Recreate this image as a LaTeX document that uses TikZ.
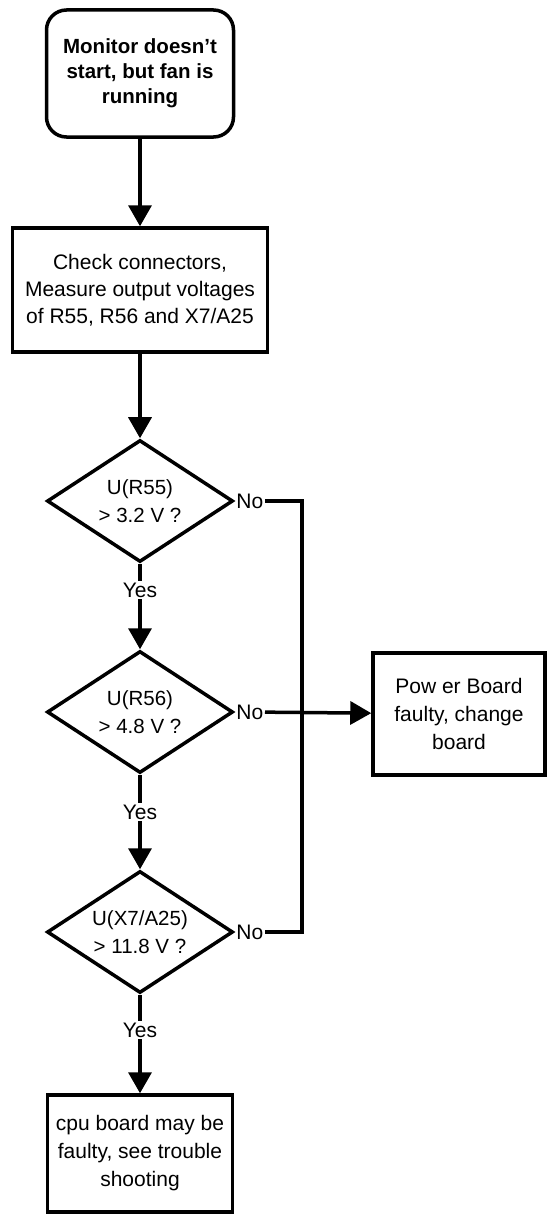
\documentclass[tikz,border=0pt]{standalone}
\usepackage{fontspec}
\setmainfont{Liberation Sans}
\usetikzlibrary{shapes.geometric}
\usetikzlibrary{arrows.meta}

\begin{document}
\begin{tikzpicture}[x=1pt, y=-1pt, >={Triangle[length=21pt, width=23pt]}]

  % ---------- Styling ----------
  \tikzset{
    startbox/.style={draw, line width=3.5pt, rounded corners=20pt, align=center, inner sep=0pt,
      font=\fontsize{20.5}{25}\selectfont\bfseries},
    taskbox/.style={draw, line width=3.5pt, align=center, inner sep=0pt,
      font=\fontsize{21}{27}\selectfont},
    query/.style={diamond, draw, line width=3.5pt, align=center, inner sep=0pt, aspect=1.5,
      minimum width=186pt, minimum height=122pt, font=\fontsize{20.5}{28}\selectfont},
    answer/.style={inner sep=1.5pt, font=\fontsize{21}{24}\selectfont},
    flow/.style={draw, line width=3.5pt, ->},
    wire/.style={draw, line width=3.5pt}
  }

  \useasboundingbox (0,0) rectangle (548,1215);

  % ---------- Boxes ----------
  \node[startbox, minimum width=187pt, minimum height=127pt] (start) at (140,73.5)
    {Monitor doesn't\\start, but fan is\\running};
  \node[taskbox, minimum width=255pt, minimum height=124pt] (check) at (140,290)
    {Check connectors,\\Measure output voltages\\of R55, R56 and X7/A25};
  \node[taskbox, minimum width=172pt, minimum height=122pt, font=\fontsize{21}{28}\selectfont]
    (power) at (459,714) {Pow er Board\\faulty, change\\board};
  \node[taskbox, minimum width=185pt, minimum height=117pt, font=\fontsize{21}{28}\selectfont]
    (cpu) at (140,1153.5) {cpu board may be\\faulty, see trouble\\shooting};

  % ---------- Decisions ----------
  \node[query] (q1) at (140,501) {U(R55)\\> 3.2 V ?};
  \node[query] (q2) at (140,712) {U(R56)\\> 4.8 V ?};
  \node[query] (q3) at (140,932) {U(X7/A25)\\> 11.8 V ?};

  \node[answer] (yes1) at (140,590) {Yes};
  \node[answer] (yes2) at (140,812) {Yes};
  \node[answer] (yes3) at (140,1030) {Yes};
  \node[answer, anchor=west] (no1) at (q1.east) {No};
  \node[answer, anchor=west] (no2) at (q2.east) {No};
  \node[answer, anchor=west] (no3) at (q3.east) {No};

  \coordinate (bus1) at (302,501);
  \coordinate (bus3) at (302,932);

  % ---------- Connectors ----------
  \draw[flow] (start) -- (check);
  \draw[flow] (check) -- (q1);
  \draw[wire] (q1) -- (yes1);
  \draw[flow] (yes1) -- (q2);
  \draw[wire] (q2) -- (yes2);
  \draw[flow] (yes2) -- (q3);
  \draw[wire] (q3) -- (yes3);
  \draw[flow] (yes3) -- (cpu);
  \draw[wire] (no1) -- (bus1) -- (bus3) -- (no3);
  \draw[flow] (no2) -- (power);

\end{tikzpicture}
\end{document}
